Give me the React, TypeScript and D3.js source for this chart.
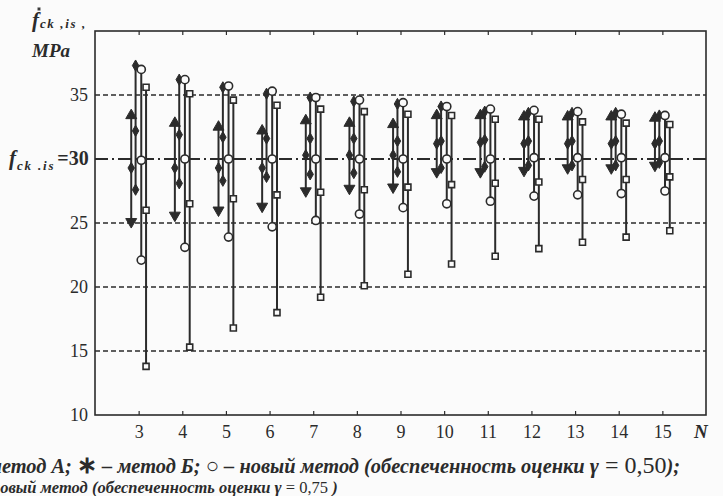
import { useEffect, useRef } from "react";
import * as d3 from "d3";

const nValues = [3, 4, 5, 6, 7, 8, 9, 10, 11, 12, 13, 14, 15];

// метод А (triangles)
const aHigh = [33.4, 32.8, 32.5, 32.2, 33.0, 32.8, 32.7, 33.4, 33.4, 33.3, 33.3, 33.3, 33.2];
const aMid = [29.3, 29.3, 29.3, 29.3, 30.3, 30.3, 30.3, 31.2, 31.3, 31.2, 31.2, 31.2, 31.2];
const aLow = [25.1, 25.6, 26.0, 26.3, 27.5, 27.7, 27.8, 29.0, 29.0, 29.1, 29.3, 29.3, 29.5];

// метод Б (stars)
const bHigh = [37.3, 36.2, 35.6, 35.1, 34.8, 34.5, 34.3, 34.1, 33.7, 33.6, 33.6, 33.6, 33.4];
const bMid = [32.2, 31.9, 31.7, 31.6, 31.6, 31.6, 31.4, 31.4, 31.5, 31.4, 31.4, 31.4, 31.4];
const bLow = [27.6, 28.1, 28.3, 28.6, 28.8, 28.9, 29.0, 29.3, 29.4, 29.5, 29.5, 29.5, 29.7];

// новый метод, gamma = 0.50 (circles)
const cHigh = [37.0, 36.2, 35.7, 35.3, 34.8, 34.6, 34.4, 34.1, 33.9, 33.8, 33.7, 33.5, 33.4];
const cMid = [29.9, 30.0, 30.0, 30.0, 30.0, 30.0, 30.0, 30.0, 30.0, 30.1, 30.1, 30.1, 30.1];
const cLow = [22.1, 23.1, 23.9, 24.7, 25.2, 25.7, 26.2, 26.5, 26.7, 27.1, 27.2, 27.3, 27.5];

// новый метод, gamma = 0.75 (squares)
const dHigh = [35.6, 35.1, 34.6, 34.2, 33.9, 33.7, 33.5, 33.4, 33.1, 33.1, 32.9, 32.8, 32.7];
const dMid = [26.0, 26.5, 26.9, 27.2, 27.4, 27.6, 27.8, 28.0, 28.1, 28.2, 28.4, 28.4, 28.6];
const dLow = [13.8, 15.3, 16.8, 18.0, 19.2, 20.1, 21.0, 21.8, 22.4, 23.0, 23.5, 23.9, 24.4];

const yTicks = [10, 15, 20, 25, 35];
const dashedLevels = [15, 20, 25, 35];
const refLevel = 30;

const W = 723;
const H = 496;
const INK = "#2b2b2b";
const PAPER = "#fbfbfb";

function drawChart(node: SVGSVGElement) {
  const svg = d3.select(node);
  svg.selectAll("*").remove();

  svg.append("rect").attr("width", W).attr("height", H).attr("fill", PAPER);

  const left = 95;
  const right = 706;
  const top = 31;
  const bottom = 415;

  const x = d3.scaleLinear().domain([2, 16]).range([left, right]);
  const y = d3.scaleLinear().domain([10, 40]).range([bottom, top]);

  // grid
  svg
    .append("g")
    .selectAll("line")
    .data(dashedLevels)
    .join("line")
    .attr("x1", left)
    .attr("x2", right)
    .attr("y1", (d) => y(d))
    .attr("y2", (d) => y(d))
    .attr("stroke", INK)
    .attr("stroke-width", 1.3)
    .attr("stroke-dasharray", "5,3");

  svg
    .append("line")
    .attr("x1", left)
    .attr("x2", right)
    .attr("y1", y(refLevel))
    .attr("y2", y(refLevel))
    .attr("stroke", INK)
    .attr("stroke-width", 1.8)
    .attr("stroke-dasharray", "13,4,2,4");

  const serif = "'Liberation Serif', 'Times New Roman', serif";

  // axes
  const xAxis = svg
    .append("g")
    .attr("transform", `translate(0,${bottom})`)
    .call(
      d3
        .axisBottom(x)
        .tickValues(nValues)
        .tickSizeInner(-4)
        .tickSizeOuter(0)
        .tickPadding(10)
        .tickFormat(d3.format("d"))
    );
  xAxis.select(".domain").remove();
  xAxis.selectAll("line").attr("stroke", INK).attr("stroke-width", 1.2);
  xAxis.selectAll("text").attr("font-family", serif).attr("font-size", 18).attr("fill", INK);

  const xTop = svg
    .append("g")
    .attr("transform", `translate(0,${top})`)
    .call(d3.axisTop(x).tickValues(nValues).tickSizeInner(-4).tickSizeOuter(0).tickFormat(() => ""));
  xTop.select(".domain").remove();
  xTop.selectAll("line").attr("stroke", INK).attr("stroke-width", 1.2);

  const yAxis = svg
    .append("g")
    .attr("transform", `translate(${left},0)`)
    .call(d3.axisLeft(y).tickValues(yTicks).tickSize(0).tickPadding(7).tickFormat(d3.format("d")));
  yAxis.select(".domain").remove();
  yAxis.selectAll("text").attr("font-family", serif).attr("font-size", 18).attr("fill", INK);

  // frame
  svg
    .append("rect")
    .attr("x", left)
    .attr("y", top)
    .attr("width", right - left)
    .attr("height", bottom - top)
    .attr("fill", "none")
    .attr("stroke", INK)
    .attr("stroke-width", 1.6);

  type Series = {
    high: number[];
    mid: number[];
    low: number[];
    offset: number;
    top: string;
    center: string;
    bottomMark: string;
  };

  const series: Series[] = [
    { high: aHigh, mid: aMid, low: aLow, offset: -0.17, top: "triUp", center: "diamond", bottomMark: "triDown" },
    { high: bHigh, mid: bMid, low: bLow, offset: -0.07, top: "diamond", center: "diamond", bottomMark: "diamond" },
    { high: cHigh, mid: cMid, low: cLow, offset: 0.06, top: "circle", center: "circle", bottomMark: "circle" },
    { high: dHigh, mid: dMid, low: dLow, offset: 0.17, top: "square", center: "square", bottomMark: "square" },
  ];

  const g = svg.append("g");

  series.forEach((s) => {
    g.append("g")
      .selectAll("line")
      .data(nValues)
      .join("line")
      .attr("x1", (n) => x(n + s.offset))
      .attr("x2", (n) => x(n + s.offset))
      .attr("y1", (_, i) => y(s.high[i]))
      .attr("y2", (_, i) => y(s.low[i]))
      .attr("stroke", INK)
      .attr("stroke-width", 2);
  });

  const symbolPath = (kind: string) => {
    if (kind === "triUp" || kind === "triDown") return d3.symbol(d3.symbolTriangle, 52)()!;
    if (kind === "diamond") return d3.symbol(d3.symbolDiamond, 36)()!;
    if (kind === "circle") return d3.symbol(d3.symbolCircle, 52)()!;
    return d3.symbol(d3.symbolSquare, 36)()!;
  };

  const drawMarks = (s: Series, values: number[], kind: string) => {
    const open = kind === "circle" || kind === "square";
    g.append("g")
      .selectAll("path")
      .data(nValues)
      .join("path")
      .attr("d", symbolPath(kind))
      .attr(
        "transform",
        (n, i) =>
          `translate(${x(n + s.offset)},${y(values[i])})${kind === "triDown" ? " rotate(180)" : ""}`
      )
      .attr("fill", open ? PAPER : INK)
      .attr("stroke", INK)
      .attr("stroke-width", open ? 1.6 : 1);
  };

  series.forEach((s) => {
    drawMarks(s, s.high, s.top);
    drawMarks(s, s.mid, s.center);
    drawMarks(s, s.low, s.bottomMark);
  });

  // labels
  const refLabel = svg
    .append("text")
    .attr("x", 9)
    .attr("y", y(refLevel) + 6)
    .attr("font-family", serif)
    .attr("font-weight", "bold")
    .attr("fill", INK);
  refLabel.append("tspan").attr("font-style", "italic").attr("font-size", 21).text("f");
  refLabel
    .append("tspan")
    .attr("font-style", "italic")
    .attr("font-size", 13)
    .attr("letter-spacing", 1.8)
    .attr("dy", 5)
    .attr("dx", 1)
    .text("ck .is");
  refLabel.append("tspan").attr("font-size", 20).attr("dy", -5).attr("dx", 2).text("=30");

  const title = svg
    .append("text")
    .attr("x", 32)
    .attr("y", 27)
    .attr("font-family", serif)
    .attr("font-weight", "bold")
    .attr("font-style", "italic")
    .attr("fill", INK);
  title.append("tspan").attr("font-size", 21).text("f");
  title
    .append("tspan")
    .attr("font-size", 13)
    .attr("letter-spacing", 1.6)
    .attr("dy", 1)
    .attr("dx", 1)
    .text("ck ,is ,");

  // small star above the f
  svg
    .append("path")
    .attr("d", d3.symbol(d3.symbolAsterisk, 10)()!)
    .attr("transform", "translate(39,9)")
    .attr("fill", "none")
    .attr("stroke", INK)
    .attr("stroke-width", 1);

  svg
    .append("text")
    .attr("x", 32)
    .attr("y", 57)
    .attr("font-family", serif)
    .attr("font-size", 19)
    .attr("font-weight", "bold")
    .attr("font-style", "italic")
    .attr("fill", INK)
    .text("MPa");

  svg
    .append("text")
    .attr("x", 694)
    .attr("y", 438)
    .attr("font-family", serif)
    .attr("font-size", 19)
    .attr("font-weight", "bold")
    .attr("font-style", "italic")
    .attr("fill", INK)
    .text("N");

  // caption
  const cap1 = svg
    .append("text")
    .attr("x", -12)
    .attr("y", 473)
    .attr("font-family", serif)
    .attr("font-size", 20.4)
    .attr("font-weight", "bold")
    .attr("font-style", "italic")
    .attr("fill", INK);
  cap1.append("tspan").text("метод А; ");
  cap1.append("tspan").attr("font-style", "normal").attr("font-size", 24).text("∗");
  cap1.append("tspan").text(" – метод Б; ");
  cap1.append("tspan").attr("font-style", "normal").attr("font-size", 22).text("○");
  cap1.append("tspan").text(" – новый метод (обеспеченность оценки ");
  cap1.append("tspan").attr("font-size", 22).text("γ");
  cap1
    .append("tspan")
    .attr("font-style", "normal")
    .attr("font-weight", "normal")
    .attr("font-size", 24)
    .text(" = 0,50");
  cap1.append("tspan").text(");");

  const cap2 = svg
    .append("text")
    .attr("x", -9)
    .attr("y", 493)
    .attr("font-family", serif)
    .attr("font-size", 16.5)
    .attr("font-weight", "bold")
    .attr("font-style", "italic")
    .attr("fill", INK);
  cap2.append("tspan").text("новый метод (обеспеченность оценки ");
  cap2.append("tspan").attr("font-size", 17).text("γ");
  cap2.append("tspan").attr("font-style", "normal").attr("font-weight", "normal").text(" = 0,75 ");
  cap2.append("tspan").text(")");
}

export default function App() {
  const ref = useRef<SVGSVGElement>(null);

  useEffect(() => {
    if (ref.current) drawChart(ref.current);
  }, []);

  return (
    <svg
      ref={ref}
      width={W}
      height={H}
      style={{ position: "absolute", left: 0, top: 0, display: "block" }}
    />
  );
}
